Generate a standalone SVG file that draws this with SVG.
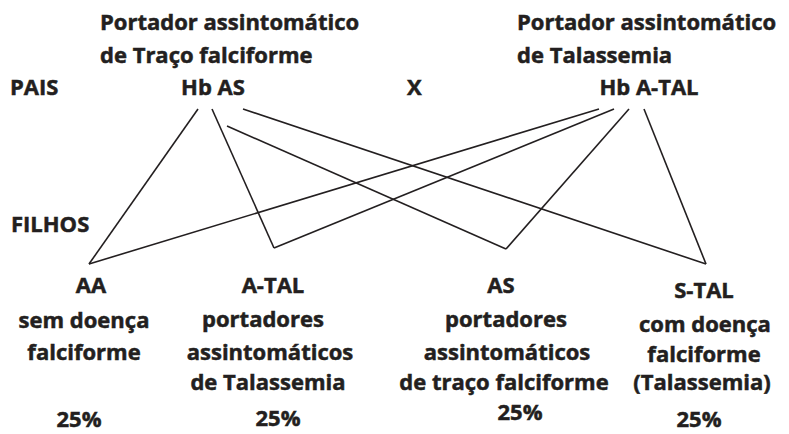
<svg xmlns="http://www.w3.org/2000/svg" width="789" height="434" viewBox="0 0 789 434">
<style>
text{font-family:"Open Sans","Noto Sans",sans-serif;font-weight:700;fill:#231f20;stroke:#231f20;stroke-width:0.5;font-size:22px}
.m{text-anchor:middle}
.c line{stroke:#231f20;stroke-width:1.6;fill:none}
</style>
<rect width="789" height="434" fill="#fff"/>
<g id="labels">
<text x="10" y="95">PAIS</text>
<text x="11" y="232">FILHOS</text>
<text x="407" y="95">X</text>
</g>
<g id="parent-as">
<text x="100" y="30">Portador assintomático</text>
<text x="100" y="63">de Traço falciforme</text>
<text x="213" y="95" class="m">Hb AS</text>
</g>
<g id="parent-atal">
<text x="517" y="30">Portador assintomático</text>
<text x="517" y="63">de Talassemia</text>
<text x="649" y="95" class="m">Hb A-TAL</text>
</g>
<g id="child-aa">
<text x="91" y="293" class="m">AA</text>
<text x="84" y="328" class="m">sem doença</text>
<text x="84" y="360" class="m">falciforme</text>
<text x="79" y="427" class="m">25%</text>
</g>
<g id="child-atal">
<text x="273" y="293" class="m">A-TAL</text>
<text x="263" y="327" class="m">portadores</text>
<text x="270" y="360" class="m">assintomáticos</text>
<text x="268" y="390" class="m">de Talassemia</text>
<text x="278" y="426" class="m">25%</text>
</g>
<g id="child-as">
<text x="501" y="293" class="m">AS</text>
<text x="506" y="327" class="m">portadores</text>
<text x="507" y="360" class="m">assintomáticos</text>
<text x="504" y="390" class="m">de traço falciforme</text>
<text x="520" y="420" class="m">25%</text>
</g>
<g id="child-stal">
<text x="704" y="298" class="m">S-TAL</text>
<text x="705" y="332" class="m">com doença</text>
<text x="704" y="362" class="m">falciforme</text>
<text x="702" y="390" class="m">(Talassemia)</text>
<text x="699" y="427" class="m">25%</text>
</g>
<g id="connectors" class="c">
<line x1="198" y1="109" x2="89" y2="264"/>
<line x1="212" y1="109" x2="274" y2="248"/>
<line x1="227" y1="126" x2="506" y2="249"/>
<line x1="243" y1="109" x2="706" y2="264"/>
<line x1="599" y1="109" x2="89" y2="264"/>
<line x1="614" y1="109" x2="274" y2="248"/>
<line x1="629" y1="109" x2="506" y2="249"/>
<line x1="644" y1="109" x2="706" y2="264"/>
</g>
</svg>
